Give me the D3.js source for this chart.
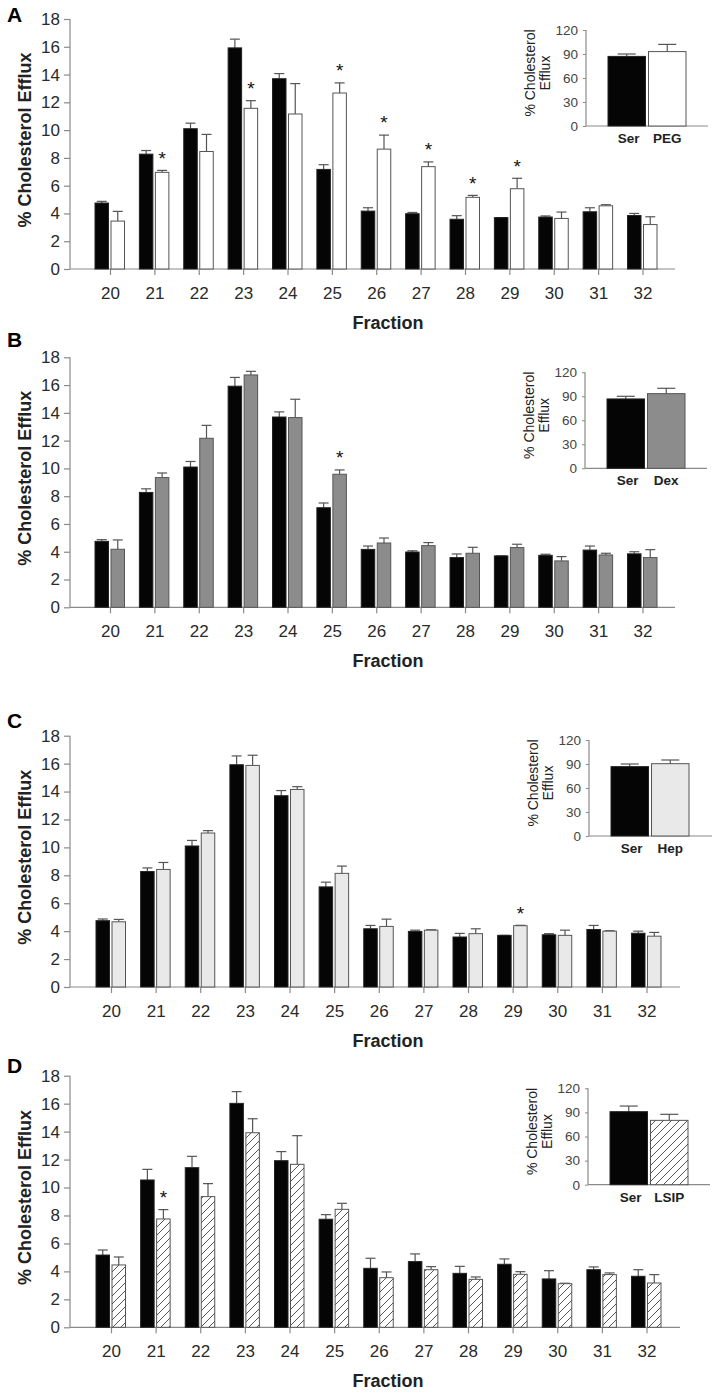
<!DOCTYPE html>
<html>
<head>
<meta charset="utf-8">
<script src="https://cdn.jsdelivr.net/npm/d3@7"></script>
<style>
  html, body { margin: 0; padding: 0; background: #fff; }
  svg { display: block; font-family: "Liberation Sans", Arial, sans-serif; }
</style>
</head>
<body>
<svg id="chart" width="714" height="1393"></svg>
<script>
// ---------- DATA ----------
const fractions = [20, 21, 22, 23, 24, 25, 26, 27, 28, 29, 30, 31, 32];
const yTicks = [0, 2, 4, 6, 8, 10, 12, 14, 16, 18];
const insetTicks = [0, 30, 60, 90, 120];

// Serum control (panels A-C)
const serum = [4.75, 8.27, 10.1, 15.92, 13.7, 7.17, 4.17, 3.98, 3.58, 3.7, 3.74, 4.12, 3.85];
const serumErr = [0.12, 0.26, 0.4, 0.63, 0.37, 0.34, 0.24, 0.09, 0.26, 0.0, 0.08, 0.29, 0.15];

// A: PEG
const peg = [3.45, 6.96, 8.46, 11.57, 11.16, 12.67, 8.63, 7.37, 5.16, 5.78, 3.64, 4.55, 3.2];
const pegErr = [0.7, 0.14, 1.23, 0.55, 2.19, 0.73, 1.01, 0.34, 0.14, 0.75, 0.46, 0.08, 0.56];
const pegStars = [21, 23, 25, 26, 27, 28, 29];

// B: Dextran
const dex = [4.18, 9.34, 12.17, 16.73, 13.66, 9.58, 4.63, 4.44, 3.89, 4.3, 3.34, 3.77, 3.58];
const dexErr = [0.67, 0.33, 0.93, 0.26, 1.32, 0.31, 0.36, 0.22, 0.43, 0.24, 0.31, 0.12, 0.57];
const dexStars = [25];

// C: Heparin
const hep = [4.67, 8.42, 11.03, 15.87, 14.15, 8.14, 4.34, 4.07, 3.82, 4.39, 3.7, 4.0, 3.64];
const hepErr = [0.17, 0.5, 0.17, 0.73, 0.2, 0.52, 0.52, 0.03, 0.35, 0.03, 0.37, 0.03, 0.27];
const hepStars = [29];

// D: Serum control and LSIP
const serumD = [5.17, 10.54, 11.42, 16.02, 11.92, 7.73, 4.22, 4.7, 3.86, 4.51, 3.46, 4.12, 3.65];
const serumDErr = [0.36, 0.76, 0.81, 0.84, 0.65, 0.33, 0.72, 0.55, 0.5, 0.38, 0.59, 0.2, 0.47];
const lsip = [4.46, 7.75, 9.35, 13.92, 11.66, 8.44, 3.55, 4.12, 3.43, 3.79, 3.12, 3.77, 3.17];
const lsipErr = [0.57, 0.67, 0.93, 1.0, 2.05, 0.43, 0.41, 0.22, 0.17, 0.19, 0.03, 0.12, 0.6];
const lsipStars = [21];

// Insets: total efflux
const insetLabels = [["Ser", "PEG"], ["Ser", "Dex"], ["Ser", "Hep"], ["Ser", "LSIP"]];
const insetMeans = [[87, 93], [86.7, 93.3], [86.7, 90.4], [90.9, 80.1]];
const insetErrs = [[3, 9], [3.3, 6.7], [3.3, 4.6], [7, 7.5]];

const panelLetters = ["A", "B", "C", "D"];
const treatMeans = [peg, dex, hep, lsip];
const treatErrs = [pegErr, dexErr, hepErr, lsipErr];
const ctrlMeans = [serum, serum, serum, serumD];
const ctrlErrs = [serumErr, serumErr, serumErr, serumDErr];
const treatStars = [pegStars, dexStars, hepStars, lsipStars];

// ---------- LAYOUT ----------
const layout = [
  { top: 19,    bottom: 269,    xr: [110, 642.5], axisEnd: 675, letterY: 22,
    inset: { x: 586, top: 30,    bottom: 126,    end: 708 } },
  { top: 357.3, bottom: 607.3,  xr: [110, 642.5], axisEnd: 675, letterY: 347,
    inset: { x: 585, top: 372.3, bottom: 468.3,  end: 707 } },
  { top: 735.7, bottom: 987,    xr: [111, 646.5], axisEnd: 680, letterY: 728,
    inset: { x: 589, top: 740,   bottom: 836,    end: 712 } },
  { top: 1075.7, bottom: 1327.3, xr: [111, 646.5], axisEnd: 680, letterY: 1073,
    inset: { x: 588, top: 1088.3, bottom: 1184.7, end: 710 } }
];
const axisX = 70;
const axisColor = "#8a8a8a";
const textColor = "#2a2a2a";
const treatFill = ["#ffffff", "#8c8c8c", "#e9e9e9", "url(#hatch)"];

const svg = d3.select("#chart");
const defs = svg.append("defs");
const pat = defs.append("pattern").attr("id", "hatch")
  .attr("patternUnits", "userSpaceOnUse").attr("width", 8).attr("height", 8);
pat.append("rect").attr("width", 8).attr("height", 8).attr("fill", "#fff");
pat.append("path").attr("d", "M0,8 L8,0 M-2,2 L2,-2 M6,10 L10,6")
  .attr("stroke", "#555").attr("stroke-width", 1);

layout.forEach((L, p) => {
  const g = svg.append("g");
  const x = d3.scalePoint().domain(fractions).range(L.xr);
  const y = d3.scaleLinear().domain([0, 18]).range([L.bottom, L.top]);

  // panel letter
  g.append("text").attr("x", 7).attr("y", L.letterY)
    .attr("font-size", 21).attr("font-weight", "bold").attr("fill", "#000")
    .text(panelLetters[p]);

  // y axis
  const ya = g.append("g").attr("transform", `translate(${axisX},0)`)
    .call(d3.axisLeft(y).tickValues(yTicks).tickSize(6).tickPadding(4).tickSizeOuter(0));
  ya.select(".domain").remove();
  g.append("line").attr("x1", axisX).attr("x2", axisX).attr("y1", L.top).attr("y2", L.bottom)
    .attr("stroke", axisColor).attr("stroke-width", 1.2);

  // x axis
  const xa = g.append("g").attr("transform", `translate(0,${L.bottom})`)
    .call(d3.axisBottom(x).tickSize(6).tickPadding(12).tickSizeOuter(0));
  xa.select(".domain").remove();
  g.append("line").attr("x1", axisX).attr("x2", L.axisEnd).attr("y1", L.bottom).attr("y2", L.bottom)
    .attr("stroke", axisColor).attr("stroke-width", 1.2);

  [ya, xa].forEach(a => {
    a.selectAll(".tick line").attr("stroke", axisColor).attr("stroke-width", 1.2);
    a.selectAll(".tick text").attr("fill", textColor).attr("font-size", 17)
      .attr("font-family", "'Liberation Sans', Arial, sans-serif");
  });

  // axis titles
  g.append("text").attr("x", 388).attr("y", L.bottom + 60).attr("text-anchor", "middle")
    .attr("font-size", 18).attr("font-weight", "bold").attr("fill", "#222").text("Fraction");
  g.append("text").attr("transform", `translate(31,${(L.top + L.bottom) / 2 - 4}) rotate(-90)`)
    .attr("text-anchor", "middle").attr("font-size", 18).attr("font-weight", "bold")
    .attr("fill", "#222").text("% Cholesterol Efflux");

  // bars
  const bw = 13.5;
  const ctrl = ctrlMeans[p], ctrlE = ctrlErrs[p], tr = treatMeans[p], trE = treatErrs[p];
  const series = [
    { vals: ctrl, errs: ctrlE, dx: -15, fill: "#050505", stroke: "#222" },
    { vals: tr, errs: trE, dx: 1, fill: treatFill[p], stroke: "#555" }
  ];
  series.forEach(s => {
    const sg = g.append("g");
    // error bars
    sg.selectAll("line.err").data(fractions).join("line")
      .attr("x1", (d) => x(d) + s.dx + bw / 2).attr("x2", (d) => x(d) + s.dx + bw / 2)
      .attr("y1", (d, i) => y(s.vals[i])).attr("y2", (d, i) => y(s.vals[i] + s.errs[i]))
      .attr("stroke", "#555").attr("stroke-width", 1.2);
    sg.selectAll("line.cap").data(fractions).join("line")
      .attr("x1", (d) => x(d) + s.dx + bw / 2 - 5).attr("x2", (d) => x(d) + s.dx + bw / 2 + 5)
      .attr("y1", (d, i) => y(s.vals[i] + s.errs[i])).attr("y2", (d, i) => y(s.vals[i] + s.errs[i]))
      .attr("stroke", "#555").attr("stroke-width", 1.2);
    sg.selectAll("rect").data(fractions).join("rect")
      .attr("x", d => x(d) + s.dx).attr("width", bw)
      .attr("y", (d, i) => y(s.vals[i])).attr("height", (d, i) => L.bottom - y(s.vals[i]))
      .attr("fill", s.fill).attr("stroke", s.stroke).attr("stroke-width", 1);
  });

  // significance stars
  g.selectAll("text.star").data(treatStars[p]).join("text")
    .attr("class", "star")
    .attr("x", d => x(d) + 1 + bw / 2).attr("text-anchor", "middle")
    .attr("y", d => { const i = fractions.indexOf(d); return y(tr[i] + trE[i]) + 1; })
    .attr("dy", "-0.35em")
    .attr("font-size", 19).attr("fill", "#111").text("*");

  // ---------- inset ----------
  const I = L.inset;
  const iy = d3.scaleLinear().domain([0, 120]).range([I.bottom, I.top]);
  const ix = d3.scaleBand().domain(insetLabels[p]).range([I.x + 22, I.x + 100]).paddingInner(0.074);
  const ig = g.append("g");
  const iya = ig.append("g").attr("transform", `translate(${I.x},0)`)
    .call(d3.axisLeft(iy).tickValues(insetTicks).tickSize(3).tickPadding(5).tickSizeOuter(0));
  iya.select(".domain").remove();
  iya.selectAll(".tick line").attr("stroke", axisColor);
  iya.selectAll(".tick text").attr("fill", "#444").attr("font-size", 13.5)
    .attr("font-family", "'Liberation Sans', Arial, sans-serif");
  ig.append("line").attr("x1", I.x).attr("x2", I.x).attr("y1", I.top).attr("y2", I.bottom)
    .attr("stroke", axisColor).attr("stroke-width", 1.2);
  ig.append("line").attr("x1", I.x).attr("x2", I.end).attr("y1", I.bottom).attr("y2", I.bottom)
    .attr("stroke", axisColor).attr("stroke-width", 1.2);

  const im = insetMeans[p], ie = insetErrs[p];
  const ifill = ["#050505", treatFill[p]];
  const istroke = ["#222", "#555"];
  insetLabels[p].forEach((lab, j) => {
    const cx = ix(lab) + ix.bandwidth() / 2;
    ig.append("line").attr("x1", cx).attr("x2", cx).attr("y1", iy(im[j])).attr("y2", iy(im[j] + ie[j]))
      .attr("stroke", "#555").attr("stroke-width", 1.2);
    ig.append("line").attr("x1", cx - 9).attr("x2", cx + 9).attr("y1", iy(im[j] + ie[j])).attr("y2", iy(im[j] + ie[j]))
      .attr("stroke", "#555").attr("stroke-width", 1.2);
    ig.append("rect").attr("x", ix(lab)).attr("width", ix.bandwidth())
      .attr("y", iy(im[j])).attr("height", I.bottom - iy(im[j]))
      .attr("fill", ifill[j]).attr("stroke", istroke[j]).attr("stroke-width", 1);
    ig.append("text").attr("x", cx + (j === 0 ? 2 : 0)).attr("y", I.bottom + 17).attr("text-anchor", "middle")
      .attr("font-size", 13.5).attr("font-weight", "bold").attr("fill", "#222").text(lab);
  });
  const icy = (I.top + I.bottom) / 2 - 5;
  ig.append("text").attr("transform", `translate(${I.x - 51},${icy}) rotate(-90)`)
    .attr("text-anchor", "middle").attr("font-size", 14).attr("fill", "#222").text("% Cholesterol");
  ig.append("text").attr("transform", `translate(${I.x - 36},${icy}) rotate(-90)`)
    .attr("text-anchor", "middle").attr("font-size", 14).attr("fill", "#222").text("Efflux");
});
</script>
</body>
</html>
